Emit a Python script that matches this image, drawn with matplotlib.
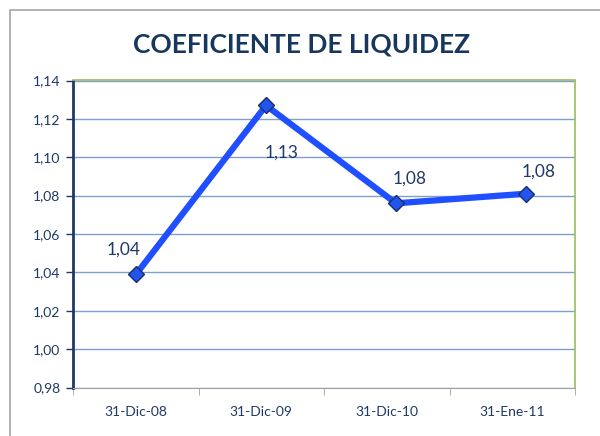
import matplotlib
matplotlib.use('Agg')
import matplotlib.pyplot as plt
from matplotlib.patches import Rectangle
import numpy as np

# Chart data
fechas = ['31-Dic-08', '31-Dic-09', '31-Dic-10', '31-Ene-11']
coeficiente = [1.039, 1.127, 1.076, 1.081]
etiquetas = ['1,04', '1,13', '1,08', '1,08']
y_ticks = [0.98, 1.00, 1.02, 1.04, 1.06, 1.08, 1.10, 1.12, 1.14]

navy = '#1f3864'
plt.rcParams['font.family'] = ['Lato', 'DejaVu Sans']

fig = plt.figure(figsize=(6, 4.36), dpi=100)
# outer chart frame
fig.patches.append(Rectangle((10 / 600, -0.01), 0.99, (426 / 436) + 0.01,
                             transform=fig.transFigure, fill=False,
                             edgecolor='#a6a6a6', linewidth=1.2))

ax = fig.add_axes([73 / 600, 48.5 / 436, 502 / 600, 307 / 436])
x = list(range(len(fechas)))
ax.plot(x, coeficiente, color='#1f4fff', linewidth=4.5, marker='D',
        markersize=8, markerfacecolor='#2255ee', markeredgecolor='#1a2f6a',
        markeredgewidth=1, zorder=3)

# points sit a bit wider apart than the category slots (excel date axis)
xmin, xmax = -0.485, 3.377
ax.set_xlim(xmin, xmax)
ax.set_ylim(0.98, 1.14)
ax.set_yticks(y_ticks)
ax.set_yticklabels([f'{v:.2f}'.replace('.', ',') for v in y_ticks],
                   color=navy, fontsize=10)
edges = np.linspace(xmin, xmax, len(fechas) + 1)
centers = (edges[:-1] + edges[1:]) / 2
ax.set_xticks(centers)
ax.set_xticklabels(fechas, color=navy, fontsize=10)
ax.tick_params(axis='x', length=0, pad=13)
ax.set_xticks(edges, minor=True)
ax.tick_params(axis='x', which='minor', length=5, color='#a0a0a0')
ax.tick_params(axis='y', length=5, color=navy, width=1, pad=4)

ax.yaxis.grid(True, color='#7f9fcf', linewidth=1)
ax.set_axisbelow(True)

ax.spines['left'].set_color(navy)
ax.spines['left'].set_linewidth(2)
ax.spines['bottom'].set_color('#a0a0a0')
ax.spines['top'].set_color('#9bbb59')
ax.spines['right'].set_color('#9bbb59')
ax.spines['top'].set_linewidth(1.2)
ax.spines['right'].set_linewidth(1.2)

# data labels
offsets = [(-9, 12), (11, -40), (10, 12), (9, 10)]
for xi, yi, txt, off in zip(x, coeficiente, etiquetas, offsets):
    ax.annotate(txt, (xi, yi), xytext=off, textcoords='offset points',
                ha='center', va='bottom', fontsize=12.5, color=navy)

fig.text(0.502, 0.897, 'COEFICIENTE DE LIQUIDEZ', ha='center', va='center',
         fontsize=19, fontweight='bold', color='#17375e')

fig.savefig('out.png', dpi=100)
